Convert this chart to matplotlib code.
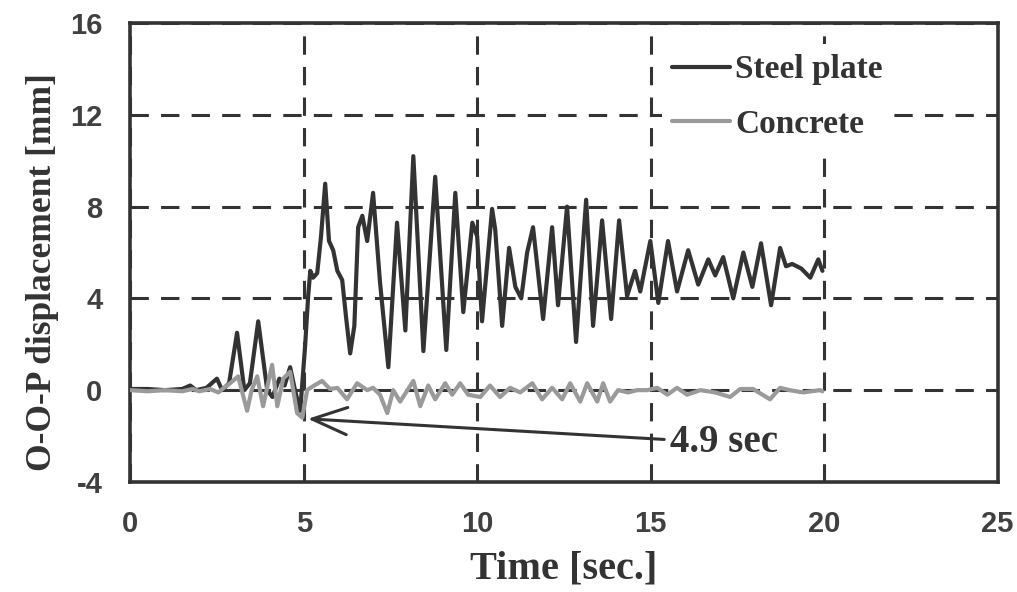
import matplotlib
matplotlib.use("Agg")
import matplotlib.pyplot as plt

plt.rcParams["axes.unicode_minus"] = False

# Out-of-plane displacement histories (time in s, displacement in mm)
steel_t = [0.0, 0.5, 1.0, 1.5, 1.73, 1.9, 2.2, 2.5, 2.65, 2.85, 3.08, 3.29, 3.45, 3.69,
           3.95, 4.1, 4.3, 4.45, 4.61, 4.75, 4.9, 4.97, 5.04, 5.13, 5.19, 5.27, 5.39,
           5.5, 5.62, 5.73, 5.85, 5.97, 6.11, 6.22, 6.34, 6.46, 6.57, 6.69, 6.83, 6.92,
           7.0, 7.2, 7.44, 7.69, 7.93, 8.16, 8.45, 8.79, 9.11, 9.37, 9.6, 9.86, 10.0,
           10.14, 10.43, 10.52, 10.72, 10.92, 11.1, 11.27, 11.44, 11.61, 11.9, 12.16,
           12.33, 12.59, 12.85, 13.14, 13.34, 13.6, 13.86, 14.09, 14.32, 14.55, 14.7,
           14.99, 15.22, 15.5, 15.76, 16.08, 16.37, 16.66, 16.86, 17.09, 17.38, 17.67,
           17.93, 18.18, 18.47, 18.73, 18.9, 19.08, 19.34, 19.6, 19.83, 19.95]
steel_v = [0.05, 0.05, 0.0, 0.05, 0.2, 0.0, 0.1, 0.5, 0.0, 0.3, 2.5, 0.0, 0.3, 3.0,
           0.0, -0.3, 0.5, 0.2, 1.0, 0.0, -0.9, 0.5, 1.9, 4.1, 5.2, 4.9, 5.1,
           6.7, 9.0, 6.5, 6.1, 5.2, 4.8, 3.2, 1.6, 2.8, 7.1, 7.6, 6.5, 7.6,
           8.6, 4.7, 1.0, 7.3, 2.6, 10.2, 1.7, 9.3, 1.75, 8.6, 3.4, 7.3, 6.7,
           3.0, 7.9, 7.0, 2.8, 6.2, 4.5, 4.0, 6.0, 7.1, 3.1, 7.1,
           3.7, 8.0, 2.1, 8.3, 2.8, 7.4, 3.1, 7.4, 4.1, 5.2, 4.3,
           6.5, 3.8, 6.5, 4.3, 6.1, 4.6, 5.7, 5.0, 5.8, 4.0, 6.0,
           4.5, 6.4, 3.7, 6.2, 5.4, 5.5, 5.3, 4.9, 5.7, 5.2]

concrete_t = [0.0, 0.5, 1.0, 1.5, 1.8, 2.0, 2.3, 2.54, 2.7, 2.88, 3.11, 3.37, 3.5, 3.66,
              3.83, 4.09, 4.24, 4.41, 4.61, 4.81, 4.96, 5.1, 5.3, 5.53, 5.76, 5.97,
              6.25, 6.54, 6.83, 7.0, 7.2, 7.41, 7.58, 7.78, 8.16, 8.36, 8.59, 8.79,
              9.08, 9.28, 9.51, 9.74, 10.09, 10.37, 10.66, 10.95, 11.24, 11.59, 11.87,
              12.16, 12.45, 12.68, 12.97, 13.17, 13.46, 13.63, 13.83, 14.06, 14.35,
              14.61, 14.9, 15.19, 15.48, 15.76, 16.05, 16.43, 16.86, 17.29, 17.58,
              17.95, 18.44, 18.73, 19.0, 19.4, 19.88, 19.95]
concrete_v = [0.0, -0.05, 0.0, -0.05, 0.05, -0.05, 0.05, -0.1, 0.1, 0.3, 0.6, -0.9, 0.0, 0.6,
              -0.7, 1.1, -0.7, 0.5, 0.8, -1.0, -1.2, 0.0, 0.2, 0.4, 0.05, 0.1,
              -0.4, 0.3, 0.0, 0.1, -0.2, -1.0, 0.0, -0.5, 0.4, -0.7, 0.2, -0.4,
              0.3, -0.2, 0.3, -0.2, -0.3, 0.2, -0.3, 0.1, -0.1, 0.3, -0.4,
              0.1, -0.4, 0.3, -0.5, 0.3, -0.5, 0.3, -0.5, 0.0, -0.1,
              0.0, 0.0, 0.1, -0.2, 0.1, -0.2, 0.0, -0.1, -0.3, 0.05,
              0.05, -0.4, 0.1, 0.0, -0.1, 0.0, -0.05]

x_ticks = [0, 5, 10, 15, 20, 25]
y_ticks = [-4, 0, 4, 8, 12, 16]

serif = "Liberation Serif"
sans = "Liberation Sans"
dark = "#333333"

fig = plt.figure(figsize=(10.17, 5.92), dpi=100)
ax = fig.add_axes([0.128, 0.186, 0.853, 0.775])

line_kw = dict(lw=3.0, solid_joinstyle="round", solid_capstyle="round")
ax.plot(steel_t, steel_v, color="#333333", label="Steel plate", zorder=3, **line_kw)
ax.plot(concrete_t, concrete_v, color="#9a9a9a", label="Concrete", zorder=4, **line_kw)

ax.set_xlim(0, 25)
ax.set_ylim(-4, 16)
ax.set_xticks(x_ticks)
ax.set_yticks(y_ticks)
ax.tick_params(length=0, pad=20, labelsize=21, labelcolor="#404040")
for lbl in ax.get_xticklabels() + ax.get_yticklabels():
    lbl.set_fontfamily(sans)
    lbl.set_fontweight("bold")

ax.grid(True, color=dark, lw=2.2, linestyle=(0, (6, 4)), zorder=1)
ax.set_axisbelow(True)
for sp in ax.spines.values():
    sp.set_color("#333333")
    sp.set_linewidth(2.6)

ax.set_xlabel("Time [sec.]", fontfamily=serif, fontweight="bold", fontsize=29,
              color="#333333", labelpad=9)
ax.set_ylabel("O-O-P displacement [mm]", fontfamily=serif, fontweight="bold",
              fontsize=25.5, color="#333333")
ax.yaxis.set_label_coords(-0.082, 0.457)

leg = ax.legend(loc="upper left", bbox_to_anchor=(0.594, 0.99), frameon=True,
                prop={"family": serif, "weight": "bold", "size": 24},
                handlelength=1.75, handletextpad=0.15, labelspacing=0.7,
                borderpad=0.3, fancybox=False)
leg.get_frame().set_facecolor("white")
leg.get_frame().set_edgecolor("none")
leg.get_frame().set_alpha(1.0)
for txt in leg.get_texts():
    txt.set_color("#333333")

ax.annotate("4.9 sec", xy=(5.12, -1.25), xytext=(15.55, -2.3),
            fontfamily=serif, fontweight="bold", fontsize=28, color="#333333",
            va="center", ha="left",
            arrowprops=dict(arrowstyle="->,head_length=0.9,head_width=0.35",
                            color="#333333", lw=2.2, shrinkA=2, shrinkB=0),
            zorder=6)

fig.savefig("out.png", dpi=100, facecolor="white")
